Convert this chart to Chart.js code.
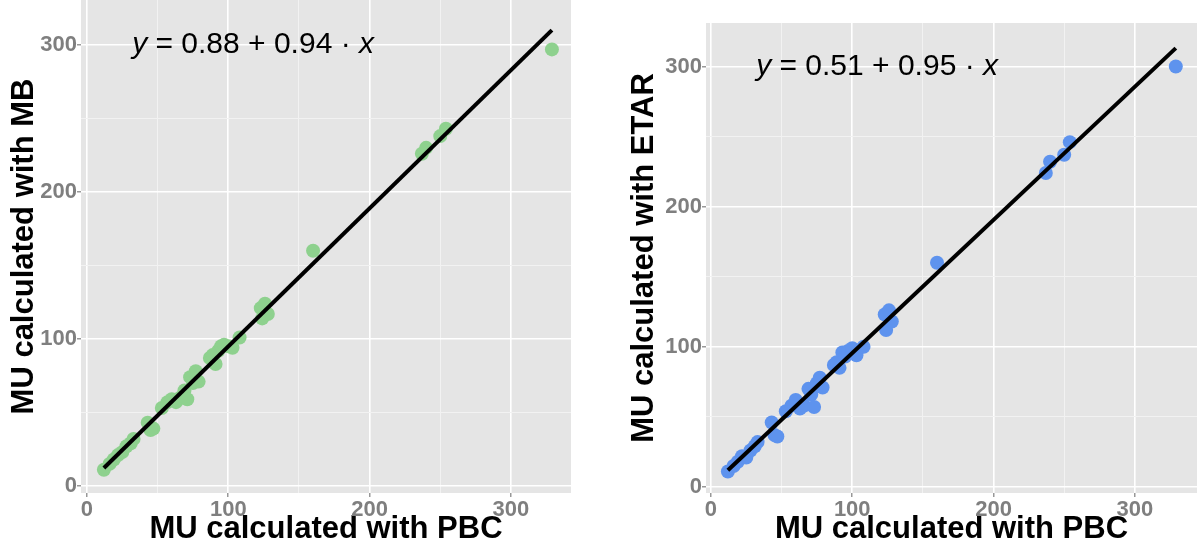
<!DOCTYPE html>
<html>
<head>
<meta charset="utf-8">
<script src="https://cdn.jsdelivr.net/npm/chart.js@4.4.1/dist/chart.umd.min.js"></script>
<style>
  html, body { margin: 0; padding: 0; background: #fff; }
  #wrap { position: relative; width: 1200px; height: 549px; overflow: hidden; }
  .panel { position: absolute; top: 0; width: 600px; height: 549px; }
</style>
</head>
<body>
<div id="wrap">
  <div class="panel" style="left:0"><canvas id="mbChart" width="600" height="549"></canvas></div>
  <div class="panel" style="left:600px"><canvas id="etarChart" width="600" height="549"></canvas></div>
</div>
<script>
// MU calculated with PBC (shared x for both panels)
const pbc  = [12, 16, 19, 22, 25, 28, 31, 33, 43, 45, 47, 53, 57, 60, 63, 66, 69, 71, 73, 75, 77, 79,
              87, 89, 91, 93, 95, 97, 100, 103, 108, 123, 124, 126, 128, 160, 237, 240, 250, 254, 329];
// MU calculated with MB
const mb   = [11, 15, 18, 21, 23, 27, 29, 32, 43, 38, 39, 53, 57, 59, 57, 60, 65, 59, 74, 70, 78, 71,
              87, 89, 83, 92, 95, 96, 95, 94, 101, 121, 114, 124, 117, 160, 226, 230, 238, 243, 297];
// MU calculated with ETAR
const etar = [11, 15, 18, 22, 21, 26, 29, 32, 46, 37, 36, 54, 58, 62, 56, 58, 70, 66, 57, 74, 78, 71,
              87, 89, 85, 96, 93, 97, 99, 94, 100, 123, 112, 126, 118, 160, 224, 232, 237, 246, 300];

// fitted lines (end points)
const fitX     = [12, 329];
const fitMB    = [12.2, 310.1];
const fitETAR  = [11.9, 313.1];

const tickValues   = [0, 50, 100, 150, 200, 250, 300];
const labeledTicks = [0, 100, 200, 300];

const FONT = "'Liberation Sans', Arial, sans-serif";

// grey panel + equation text
const panelBg = {
  id: 'panelBg',
  beforeDraw(chart) {
    const a = chart.chartArea, ctx = chart.ctx;
    ctx.save();
    ctx.fillStyle = '#E5E5E5';
    ctx.fillRect(a.left, a.top, a.right - a.left, a.bottom - a.top);
    ctx.restore();
  },
  afterDatasetsDraw(chart) {
    const eq = chart.options.plugins.panelBg;
    if (!eq || !eq.parts) return;
    const ctx = chart.ctx;
    let x = chart.scales.x.getPixelForValue(eq.at[0]);
    const y = chart.scales.y.getPixelForValue(eq.at[1]);
    ctx.save();
    ctx.fillStyle = '#000';
    ctx.textBaseline = 'middle';
    ctx.textAlign = 'left';
    eq.parts.forEach(p => {
      ctx.font = (p.italic ? 'italic ' : '') + eq.size + 'px ' + FONT;
      ctx.fillText(p.t, x, y);
      x += ctx.measureText(p.t).width;
    });
    ctx.restore();
  }
};

function makeChart(id, ys, fitYs, color, yTitle, eqParts, box) {
  const points = pbc.map((v, i) => ({ x: v, y: ys[i] }));
  const line = fitX.map((v, i) => ({ x: v, y: fitYs[i] }));

  const isMajor = ctx => ctx.tick && labeledTicks.includes(ctx.tick.value);
  const gridOpts = {
    color: ctx => isMajor(ctx) ? '#FFFFFF' : '#F2F2F2',
    lineWidth: ctx => isMajor(ctx) ? 1.6 : 1,
    tickColor: ctx => isMajor(ctx) ? '#7F7F7F' : 'rgba(0,0,0,0)',
    tickLength: 4,
    tickWidth: 1.2,
    drawTicks: true
  };
  const tickOpts = {
    autoSkip: false,
    maxRotation: 0,
    color: '#7F7F7F',
    font: { family: FONT, size: 22, weight: 'bold' },
    callback: v => labeledTicks.includes(v) ? String(v) : ''
  };
  const titleFont = { family: FONT, size: 31, weight: 'bold' };

  return new Chart(document.getElementById(id), {
    data: {
      datasets: [
        { type: 'line', data: line, borderColor: '#000', borderWidth: 4, pointRadius: 0, order: 0 },
        { type: 'scatter', data: points, backgroundColor: color, borderWidth: 0, pointRadius: 7, order: 1 }
      ]
    },
    options: {
      responsive: false,
      animation: false,
      devicePixelRatio: 1,
      layout: { padding: box.padding, autoPadding: false },
      plugins: {
        legend: { display: false },
        tooltip: { enabled: false },
        panelBg: { parts: eqParts, at: [32, 300], size: 30 }
      },
      scales: {
        x: {
          type: 'linear', min: box.xMin, max: box.xMax,
          afterBuildTicks: s => { s.ticks = tickValues.map(v => ({ value: v })); },
          afterFit: s => { s.height = box.xHeight; s.paddingLeft = 0; s.paddingRight = 0; },
          grid: gridOpts,
          border: { display: false },
          ticks: Object.assign({ padding: 0 }, tickOpts),
          title: { display: true, text: 'MU calculated with PBC', color: '#000', font: titleFont, padding: { top: 0, bottom: 1 } }
        },
        y: {
          type: 'linear', min: box.yMin, max: box.yMax,
          afterBuildTicks: s => { s.ticks = tickValues.map(v => ({ value: v })); },
          afterFit: s => { s.width = box.yWidth; s.paddingTop = 0; s.paddingBottom = 0; },
          grid: gridOpts,
          border: { display: false },
          ticks: Object.assign({ padding: 0 }, tickOpts),
          title: { display: true, text: yTitle, color: '#000', font: titleFont, padding: { top: 6, bottom: 0 } }
        }
      }
    },
    plugins: [panelBg]
  });
}

makeChart('mbChart', mb, fitMB, '#8ED18E', 'MU calculated with MB',
  [{ t: 'y', italic: true }, { t: ' = 0.88 + 0.94 · ' }, { t: 'x', italic: true }],
  { padding: { left: 0, top: 0, right: 29, bottom: 0 }, yWidth: 81, xHeight: 56,
    xMin: -4.2, xMax: 342.5, yMin: -4.8, yMax: 330.6 });

makeChart('etarChart', etar, fitETAR, '#5E93EE', 'MU calculated with ETAR',
  [{ t: 'y', italic: true }, { t: ' = 0.51 + 0.95 · ' }, { t: 'x', italic: true }],
  { padding: { left: 20, top: 23, right: 3, bottom: 0 }, yWidth: 86, xHeight: 56,
    xMin: -3.5, xMax: 344, yMin: -4.3, yMax: 331 });
</script>
</body>
</html>
